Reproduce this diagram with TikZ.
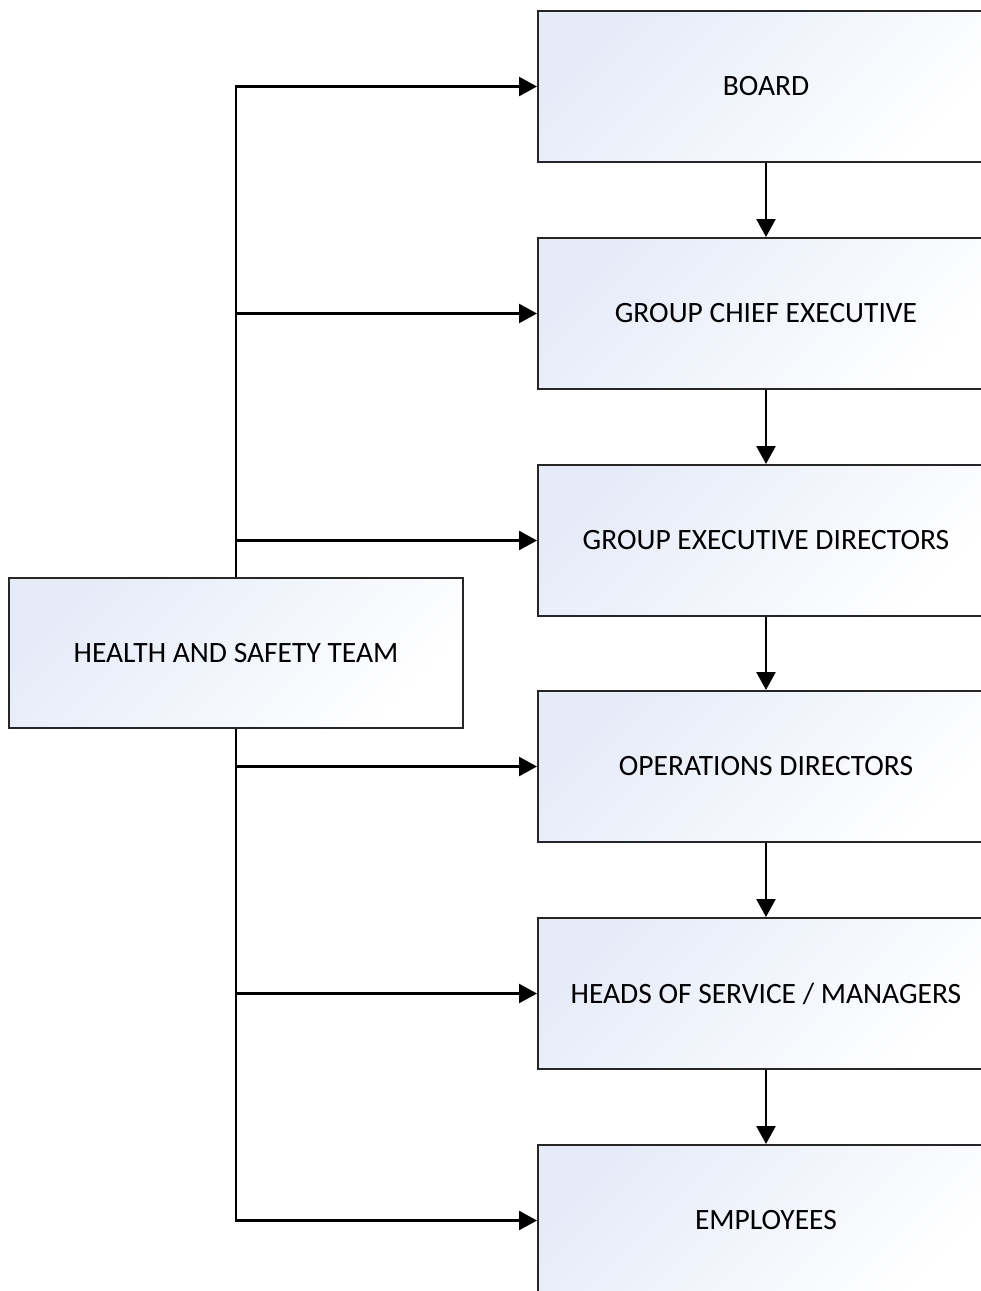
\documentclass[tikz,border=0pt]{standalone}
\usepackage{fontspec}
\setmainfont{Carlito}
\usetikzlibrary{arrows.meta}
\definecolor{boxtint}{RGB}{229,235,248}
\definecolor{boxmid}{RGB}{248,250,254}
\tikzset{
  orgbox/.style={draw=black!85, line width=2pt, rectangle, minimum width=456pt, minimum height=151pt,
    inner sep=0pt, anchor=north west, top color=boxtint, middle color=boxmid, bottom color=white, shading angle=45,
    font=\fontsize{29.5pt}{33pt}\selectfont},
  arr/.style={line width=2.5pt, -{Triangle[length=18pt,width=19pt]}}
}
\begin{document}
\begin{tikzpicture}[x=1pt,y=-1pt]
\useasboundingbox (0,0) rectangle (981,1291);
\clip (0,0) rectangle (981,1291);
\fill[white] (0,0) rectangle (981,1291);
\node[orgbox] (board) at (537,10) {BOARD};
\node[orgbox] (gce) at (537,237) {GROUP CHIEF EXECUTIVE};
\node[orgbox] (ged) at (537,464) {GROUP EXECUTIVE DIRECTORS};
\node[orgbox] (od) at (537,690) {OPERATIONS DIRECTORS};
\node[orgbox] (hos) at (537,917) {HEADS OF SERVICE / MANAGERS};
\node[orgbox] (emp) at (537,1144) {EMPLOYEES};
\node[orgbox, minimum width=454pt, minimum height=150pt] (hs) at (8,577) {HEALTH AND SAFETY TEAM};
\draw[arr] (board.south) -- (gce.north);
\draw[arr] (gce.south) -- (ged.north);
\draw[arr] (ged.south) -- (od.north);
\draw[arr] (od.south) -- (hos.north);
\draw[arr] (hos.south) -- (emp.north);
\draw[arr] (hs.north) |- (board.west);
\draw[arr] (hs.north) |- (gce.west);
\draw[arr] (hs.north) |- (ged.west);
\draw[arr] (hs.south) |- (od.west);
\draw[arr] (hs.south) |- (hos.west);
\draw[arr] (hs.south) |- (emp.west);
\end{tikzpicture}
\end{document}
